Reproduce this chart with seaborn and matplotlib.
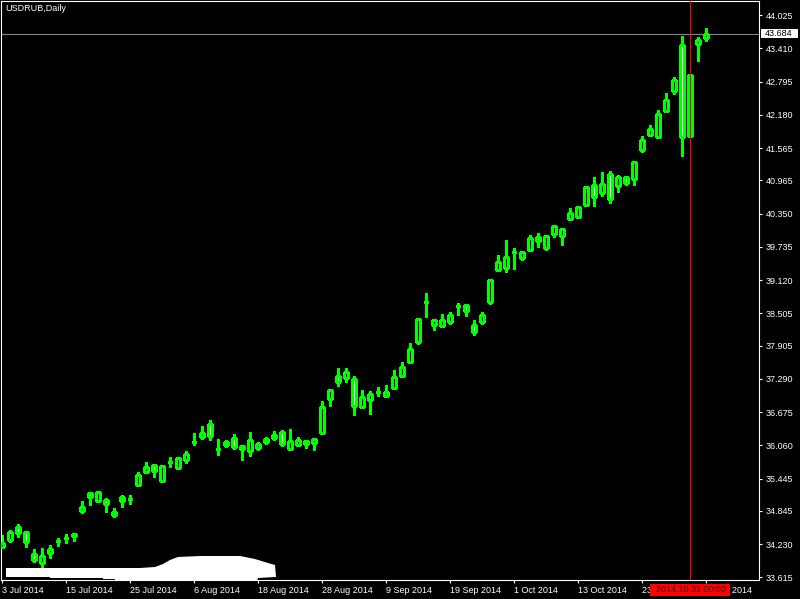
import numpy as np
import pandas as pd
import matplotlib
matplotlib.use("Agg")
import matplotlib.pyplot as plt
import matplotlib.transforms as mtransforms
from matplotlib.patches import Polygon, Rectangle
import seaborn as sns

# ---------------- data ----------------
symbol_title = "USDRUB,Daily"
dates = pd.bdate_range("2014-07-03", periods=89)

opens = [34.184, 34.308, 34.543, 34.451, 34.049, 33.877, 34.062, 34.289, 34.351, 34.382,
         34.854, 35.173, 35.021, 35.049, 34.777, 35.104, 35.062, 35.327, 35.573, 35.691,
         35.406, 35.747, 35.641, 35.789, 36.123, 36.221, 36.451, 35.988, 36.067, 36.191,
         36.049, 35.962, 36.017, 36.123, 36.197, 36.308, 35.999, 36.073, 36.136, 36.110,
         36.284, 36.914, 37.345, 37.314, 37.289, 36.777, 36.906, 37.049, 36.980, 37.128,
         37.351, 37.610, 37.980, 38.715, 38.295, 38.277, 38.345, 38.647, 38.654, 38.289,
         38.345, 38.721, 39.314, 39.351, 39.647, 39.536, 39.684, 39.914, 39.715, 39.980,
         39.943, 40.258, 40.295, 40.517, 40.877, 40.739, 41.080, 40.869, 41.025, 40.988,
         41.530, 41.814, 41.777, 42.258, 42.628, 43.469, 41.795, 43.488, 43.599]
highs = [34.401, 34.493, 34.604, 34.460, 34.141, 34.160, 34.215, 34.351, 34.414, 34.443,
         35.030, 35.178, 35.206, 35.080, 34.895, 35.136, 35.141, 35.573, 35.752, 35.715,
         35.688, 35.839, 35.836, 35.956, 36.295, 36.419, 36.530, 36.178, 36.160, 36.271,
         36.067, 36.308, 36.123, 36.221, 36.332, 36.345, 36.364, 36.215, 36.160, 36.173,
         36.882, 37.095, 37.499, 37.499, 37.345, 37.086, 37.067, 37.141, 37.178, 37.456,
         37.604, 37.956, 38.400, 38.882, 38.382, 38.488, 38.530, 38.697, 38.660, 38.382,
         38.530, 39.141, 39.586, 39.864, 39.715, 39.641, 39.951, 39.993, 39.951, 40.141,
         40.080, 40.456, 40.488, 40.858, 41.030, 41.117, 41.141, 41.067, 41.030, 41.327,
         41.795, 41.993, 42.271, 42.580, 42.888, 43.647, 42.914, 43.628, 43.789]
lows = [34.154, 34.277, 34.369, 34.184, 33.906, 33.814, 33.980, 34.202, 34.258, 34.295,
        34.799, 34.956, 35.012, 34.832, 34.739, 34.925, 34.975, 35.308, 35.549, 35.480,
        35.400, 35.665, 35.623, 35.739, 36.073, 36.178, 36.160, 35.882, 36.030, 35.993,
        35.789, 35.864, 35.975, 36.091, 36.160, 36.054, 35.999, 36.073, 36.017, 35.975,
        36.284, 36.795, 37.160, 37.239, 36.623, 36.777, 36.641, 36.975, 36.956, 37.128,
        37.327, 37.586, 37.943, 38.443, 38.202, 38.277, 38.314, 38.475, 38.462, 38.104,
        38.308, 38.673, 39.308, 39.277, 39.332, 39.493, 39.665, 39.734, 39.678, 39.919,
        39.771, 40.234, 40.295, 40.517, 40.493, 40.684, 40.554, 40.752, 40.888, 40.888,
        41.499, 41.814, 41.777, 42.258, 42.567, 41.425, 41.795, 43.178, 43.554]
closes = [34.258, 34.462, 34.432, 34.265, 33.938, 34.012, 34.141, 34.289, 34.351, 34.419,
          34.914, 35.099, 35.197, 34.969, 34.827, 35.025, 35.062, 35.512, 35.660, 35.591,
          35.678, 35.747, 35.827, 35.901, 36.123, 36.284, 36.239, 35.988, 36.128, 36.036,
          35.999, 36.154, 36.091, 36.184, 36.258, 36.080, 36.141, 36.160, 36.080, 36.173,
          36.765, 37.086, 37.239, 37.419, 36.795, 36.956, 37.012, 37.049, 37.049, 37.321,
          37.512, 37.845, 38.395, 38.715, 38.377, 38.377, 38.475, 38.647, 38.554, 38.165,
          38.475, 39.123, 39.456, 39.549, 39.647, 39.636, 39.901, 39.851, 39.932, 40.117,
          40.062, 40.358, 40.469, 40.839, 40.665, 40.895, 40.628, 41.025, 40.914, 41.302,
          41.710, 41.919, 42.191, 42.456, 42.827, 41.765, 42.914, 43.567, 43.684]

price_ticks = [44.025, 43.410, 42.795, 42.180, 41.565, 40.965, 40.350, 39.735, 39.120,
               38.505, 37.905, 37.290, 36.675, 36.060, 35.445, 34.845, 34.230, 33.615]
current_price = 43.684
cursor_date = "2014-10-31"
cursor_label = "2014.10.31 00:00"

# ---------------- style ----------------
sns.set_theme(style="dark", rc={
    "figure.facecolor": "black", "axes.facecolor": "black",
    "axes.edgecolor": "white", "text.color": "white",
    "xtick.color": "white", "ytick.color": "white",
})
plt.rcParams["font.family"] = ["Liberation Sans", "DejaVu Sans"]

W, H = 800, 599
fig = plt.figure(figsize=(W / 100, H / 100), dpi=100, facecolor="black")
ax = fig.add_axes([1 / W, (H - 580) / H, 758 / W, 579 / H])
ax.set_facecolor("black")

df = pd.DataFrame({"date": dates, "open": opens, "high": highs,
                   "low": lows, "close": closes})
df["idx"] = np.arange(len(df))
bull = df["close"] >= df["open"]
green = "#00ff00"

# wicks
ax.vlines(df["idx"], df["low"], df["high"], color=green, linewidth=0.8,
          antialiased=False, zorder=2)
# bodies: bull hollow (black), bear white
body_bottom = np.minimum(df["open"], df["close"])
body_h = np.abs(df["close"] - df["open"])
ax.bar(df["idx"], body_h, bottom=body_bottom, width=0.5,
       color=np.where(bull, "black", "white"), edgecolor=green,
       linewidth=0.8, antialiased=False, zorder=3)

ax.set_xlim(-0.1625, 94.5875)
ax.set_ylim(33.567, 44.289)

# price axis on the right
ax.yaxis.tick_right()
ax.set_yticks(price_ticks)
ax.set_yticklabels([f"{v:.3f}" for v in price_ticks])
# date axis
xt = list(range(0, len(df), 8))
ax.set_xticks(xt)
ax.set_xticklabels([f"{dates[i].day} {dates[i]:%b %Y}" for i in xt])
for lbl in ax.get_xticklabels():
    lbl.set_ha("left")

ax.tick_params(axis="both", colors="white", direction="out", length=2.2,
               width=0.8, labelsize=6.5, pad=2)
ax.tick_params(axis="x", bottom=True, top=False)
ax.tick_params(axis="y", left=False, right=True, labelleft=False,
               labelright=True, pad=2.5)
for s in ax.spines.values():
    s.set_color("white")
    s.set_linewidth(0.8)
ax.grid(False)

# current price line and label
ax.axhline(current_price, color="#778899", linewidth=0.8, zorder=1)
bt = mtransforms.blended_transform_factory(ax.transAxes, ax.transData)
ax.add_patch(Rectangle((1 + 2 / 758, current_price - 4.7 / 54), 37 / 758, 9.4 / 54,
                       transform=bt, facecolor="white", edgecolor="none",
                       clip_on=False, zorder=5))
ax.text(1 + 6 / 758, current_price, f"{current_price:.3f}", transform=bt,
        ha="left", va="center", color="black", fontsize=6.5, zorder=6,
        clip_on=False)

# cursor line
cur_idx = int(np.where(dates == pd.Timestamp(cursor_date))[0][0])
ax.axvline(cur_idx, color="red", linewidth=0.8, zorder=4)
bt2 = mtransforms.blended_transform_factory(ax.transData, ax.transAxes)
ax.add_patch(Rectangle((cur_idx - 5.0, -16 / 579), 10.0, 12 / 579,
                       transform=bt2, facecolor="red", edgecolor="none",
                       clip_on=False, zorder=5))
ax.text(cur_idx + 0.1, -10 / 579, cursor_label, transform=bt2, ha="center",
        va="center", color="#3a0000", fontsize=6.5, zorder=6, clip_on=False)

# title
fig.text(5 / W, 1 - 8.5 / H, symbol_title, ha="left", va="center",
         color="white", fontsize=6.5)

# white erased-watermark blob at the lower left
blob_px = [(6, 568), (140, 568), (155, 567), (163, 564), (170, 560), (178, 557),
           (200, 556), (240, 556), (255, 559), (268, 563), (275, 565), (276, 577),
           (258, 578), (257, 581), (115, 581), (115, 579), (103, 579), (103, 578),
           (50, 578), (50, 577), (6, 577)]
fig.add_artist(Polygon([(x / W, 1 - y / H) for x, y in blob_px], closed=True,
                       transform=fig.transFigure, facecolor="white",
                       edgecolor="none", zorder=10))

fig.savefig("out.png", dpi=100, facecolor="black")
